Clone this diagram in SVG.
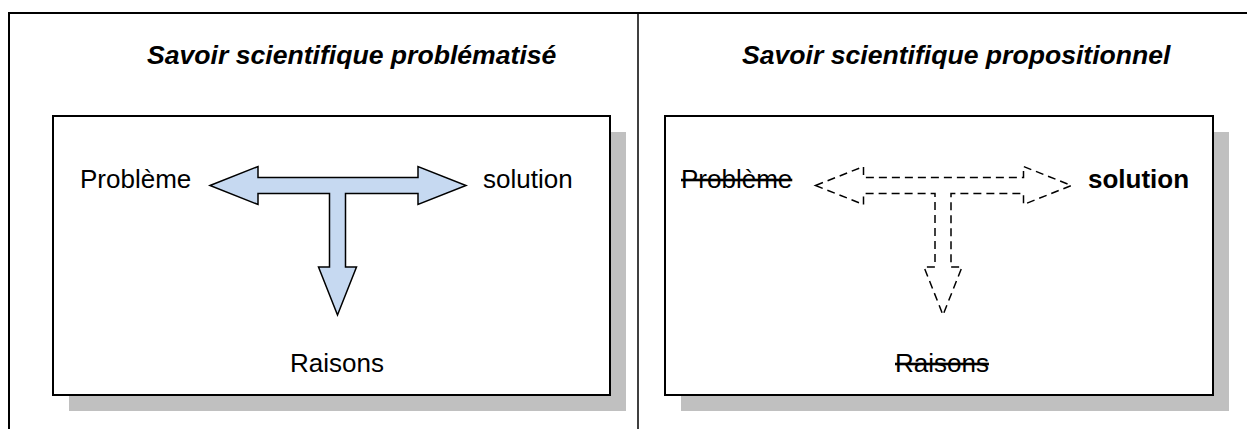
<svg xmlns="http://www.w3.org/2000/svg" width="1247" height="429" viewBox="0 0 1247 429">
  <style>
    .frame { fill: none; stroke: #000; stroke-width: 2; }
    .divider { fill: none; stroke: #000; stroke-width: 1.5; }
    .shadow { fill: #c0c0c0; }
    .box { fill: #fff; stroke: #000; stroke-width: 2; }
    .title { font-family: "Liberation Sans", Arial, sans-serif; font-size: 26.6px; font-weight: bold; font-style: italic; fill: #000; }
    .label { font-family: "Liberation Sans", Arial, sans-serif; font-size: 26px; fill: #000; }
    .bold { font-weight: bold; }
    .struck { text-decoration: line-through; }
    .tee-solid { fill: #c6d9f1; stroke: #000; stroke-width: 1.5; stroke-linejoin: miter; }
    .tee-dashed { fill: none; stroke: #000; stroke-width: 1.5; stroke-dasharray: 8 5; }
  </style>
  <defs>
    <!-- T-shaped three-way arrow, centred on the vertical axis x=0, horizontal axis y=0 -->
    <path id="tee" d="M -127.5 0 L -79.5 -19 L -79.5 -8 L 80.5 -8 L 80.5 -19 L 128.5 0 L 80.5 19 L 80.5 8 L 8 8 L 8 81.5 L 19 81.5 L 0 129.5 L -19 81.5 L -8 81.5 L -8 8 L -79.5 8 L -79.5 19 Z"/>
  </defs>

  <!-- outer table frame -->
  <g id="frame">
    <path class="frame" d="M 9 429 L 9 13 L 1247 13"/>
    <line class="divider" x1="638" y1="13" x2="638" y2="429"/>
  </g>

  <!-- left column: problematised knowledge -->
  <g id="panel-problematise">
    <text class="title" x="147" y="64">Savoir scientifique problématisé</text>
    <rect class="shadow" x="69" y="132" width="557" height="279"/>
    <rect class="box" x="53" y="116" width="557" height="279"/>
  </g>
  <g id="tee-problematise">
    <use href="#tee" class="tee-solid" transform="translate(337.5 185.5)"/>
  </g>
  <g id="label-probleme-1"><text class="label" x="80" y="188">Problème</text></g>
  <g id="label-solution-1"><text class="label" x="483" y="188">solution</text></g>
  <g id="label-raisons-1"><text class="label" x="290" y="372">Raisons</text></g>

  <!-- right column: propositional knowledge -->
  <g id="panel-propositionnel">
    <text class="title" x="742" y="64">Savoir scientifique propositionnel</text>
    <rect class="shadow" x="681" y="132" width="548" height="279"/>
    <rect class="box" x="665" y="116" width="548" height="279"/>
  </g>
  <g id="tee-propositionnel">
    <use href="#tee" class="tee-dashed" transform="translate(943 185.5)"/>
  </g>
  <g id="label-probleme-2"><text class="label struck" x="681" y="188">Problème</text></g>
  <g id="label-solution-2"><text class="label bold" x="1088" y="188">solution</text></g>
  <g id="label-raisons-2"><text class="label struck" x="895" y="372">Raisons</text></g>
</svg>
